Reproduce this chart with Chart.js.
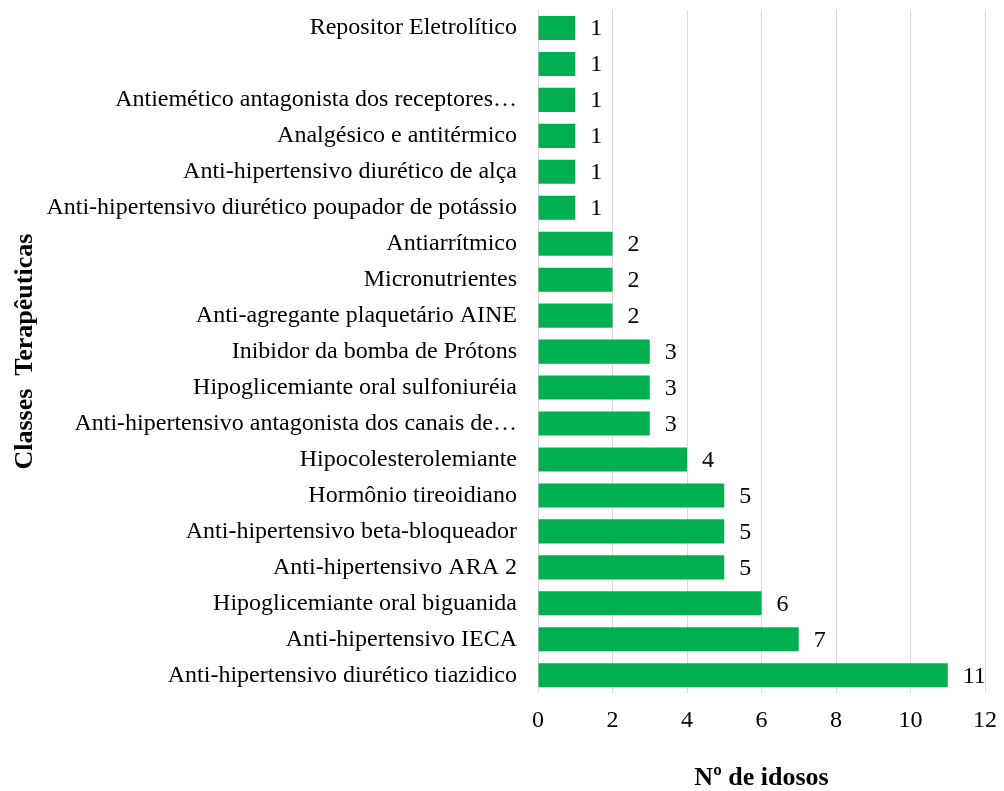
<!DOCTYPE html>
<html>
<head>
<meta charset="utf-8">
<script src="https://cdn.jsdelivr.net/npm/chart.js@4/dist/chart.umd.min.js"></script>
<style>
  html, body { margin: 0; padding: 0; background: #fff; }
  #wrap { width: 1004px; height: 791px; }
</style>
</head>
<body>
<div id="wrap"><canvas id="classesChart"></canvas></div>
<script>
// Classes terapêuticas, de cima para baixo como no gráfico
const classLabels = [
    'Repositor Eletrolítico',
    '',
    'Antiemético antagonista dos receptores…',
    'Analgésico e antitérmico',
    'Anti-hipertensivo diurético de alça',
    'Anti-hipertensivo diurético poupador de potássio',
    'Antiarrítmico',
    'Micronutrientes',
    'Anti-agregante plaquetário AINE',
    'Inibidor da bomba de Prótons',
    'Hipoglicemiante oral sulfoniuréia',
    'Anti-hipertensivo antagonista dos canais de…',
    'Hipocolesterolemiante',
    'Hormônio tireoidiano',
    'Anti-hipertensivo beta-bloqueador',
    'Anti-hipertensivo ARA 2',
    'Hipoglicemiante oral biguanida',
    'Anti-hipertensivo IECA',
    'Anti-hipertensivo diurético tiazidico'
];
const idososCount = [1, 1, 1, 1, 1, 1, 2, 2, 2, 3, 3, 3, 4, 5, 5, 5, 6, 7, 11];
const xTicks = [0, 2, 4, 6, 8, 10, 12];

const serif = "'Liberation Serif', 'Times New Roman', serif";

// value labels at the end of each bar (no datalabels plugin offline)
const barValues = {
    id: 'barValues',
    afterDatasetsDraw(chart) {
        const ctx = chart.ctx;
        const meta = chart.getDatasetMeta(0);
        ctx.save();
        ctx.font = '24px ' + serif;
        ctx.fillStyle = '#000';
        ctx.textAlign = 'left';
        ctx.textBaseline = 'middle';
        meta.data.forEach((bar, i) => {
            ctx.fillText(String(idososCount[i]), bar.x + 15, bar.y + 1);
        });
        ctx.restore();
    }
};

const ctxClasses = document.getElementById('classesChart').getContext('2d');
new Chart(ctxClasses, {
    type: 'bar',
    data: {
        labels: classLabels,
        datasets: [{
            data: idososCount,
            backgroundColor: '#00b050',
            borderWidth: 0,
            barPercentage: 0.67,
            categoryPercentage: 1
        }]
    },
    options: {
        indexAxis: 'y',
        responsive: true,
        maintainAspectRatio: false,
        animation: false,
        layout: { padding: { top: 10, right: 19, left: 8, bottom: 0 } },
        plugins: {
            legend: { display: false },
            tooltip: { enabled: false }
        },
        scales: {
            x: {
                min: 0,
                max: 12,
                afterBuildTicks: (scale) => {
                    scale.ticks = xTicks.map(v => ({ value: v }));
                },
                afterFit: (scale) => { scale.paddingLeft = 0; scale.paddingRight = 0; },
                border: { display: false },
                grid: { color: '#d9d9d9', lineWidth: 1, drawTicks: false },
                ticks: {
                    color: '#000',
                    font: { family: serif, size: 24 },
                    padding: 13
                },
                title: {
                    display: true,
                    text: 'Nº de idosos',
                    color: '#000',
                    font: { family: serif, size: 26, weight: 'bold', lineHeight: 1 },
                    padding: { top: 17, bottom: 0 }
                }
            },
            y: {
                border: { display: false },
                grid: { display: false, drawTicks: false },
                afterFit: (scale) => {
                    scale.width = 530;
                    scale.paddingTop = 0;
                    scale.paddingBottom = 0;
                },
                ticks: {
                    color: '#000',
                    font: { family: serif, size: 24 },
                    padding: 21,
                    autoSkip: false
                },
                title: {
                    display: true,
                    text: 'Classes  Terapêuticas',
                    color: '#000',
                    font: { family: serif, size: 26, weight: 'bold' },
                    padding: { top: 2, bottom: 0 }
                }
            }
        }
    },
    plugins: [barValues]
});
</script>
</body>
</html>
